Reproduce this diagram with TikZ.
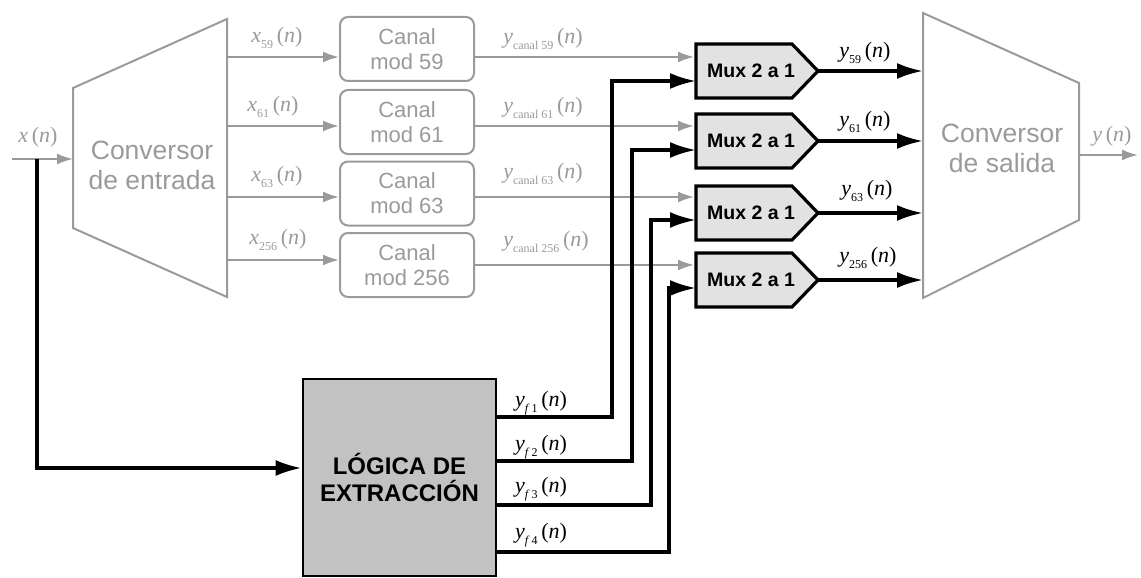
\documentclass[tikz,border=0pt]{standalone}
\usepackage{fontspec}
\setmainfont{Liberation Sans}
\newfontfamily\tms{Liberation Serif}
\usetikzlibrary{arrows.meta}
\definecolor{lg}{HTML}{9A9A9A}
\definecolor{muxfill}{HTML}{E2E2E2}
\definecolor{logfill}{HTML}{C2C2C2}
\newcommand\sig[2]{\textit{#1}\raisebox{-0.28em}{\fontsize{12}{12}\selectfont #2}\,(\textit{n})}
\begin{document}
\begin{tikzpicture}[x=1pt,y=-1pt,
 garr/.style={draw=lg,line width=2pt,-{Latex[length=16pt,width=11pt]}},
 barr/.style={draw=black,line width=3.2pt,-{Latex[length=26pt,width=16pt]}},
 conv/.style={draw=lg,line width=2pt},
 convtext/.style={text=lg,font=\fontsize{26.5}{30}\selectfont,align=center,inner sep=0pt},
 canal/.style={draw=lg,line width=2pt,rounded corners=8pt,minimum width=134pt,minimum height=64pt,inner sep=0pt,text=lg,font=\fontsize{22}{25}\selectfont,align=center},
 muxsh/.style={draw=black,line width=3.2pt,fill=muxfill,line join=miter},
 muxtext/.style={font=\bfseries\fontsize{19.5}{20}\selectfont,inner sep=0pt},
 logic/.style={draw=black,line width=2.8pt,fill=logfill,minimum width=193pt,minimum height=197pt,inner sep=0pt,align=center,font=\bfseries\fontsize{24}{27}\selectfont},
 glab/.style={text=lg,font=\tms\fontsize{22}{24}\selectfont,inner sep=0pt},
 blab/.style={text=black,font=\tms\fontsize{22}{24}\selectfont,inner sep=0pt}
]
\useasboundingbox (0,0) rectangle (1141,578);

% input converter
\draw[conv] (73,88) -- (227,19) -- (227,297) -- (73,228) -- cycle;
\node[convtext] (cin) at (152,165) {Conversor\\de entrada};
\coordinate (cinL) at (73,159);
\coordinate (xs) at (12,159);
\coordinate (tap) at (37,159);
\node[glab] (xl) at (38,137) {\textit{x}\,(\textit{n})};
\draw[garr] (xs) -- (cinL);

% channel boxes
\node[canal] (c1) at (407,49) {Canal\\mod 59};
\node[canal] (c2) at (407,122) {Canal\\mod 61};
\node[canal] (c3) at (407,193.5) {Canal\\mod 63};
\node[canal] (c4) at (407,265) {Canal\\mod 256};

\draw[garr] (227,57) -- (c1.west |- 0,57);
\draw[garr] (227,126) -- (c2.west |- 0,126);
\draw[garr] (227,197) -- (c3.west |- 0,197);
\draw[garr] (227,260) -- (c4.west |- 0,260);

\node[glab] (lx1) at (277,38) {\sig{x}{59}};
\node[glab] (lx2) at (273,107) {\sig{x}{61}};
\node[glab] (lx3) at (277,177) {\sig{x}{63}};
\node[glab] (lx4) at (278,240) {\sig{x}{256}};

% muxes
\foreach \i/\yt in {1/44,2/114,3/186,4/253}{
  \draw[muxsh] (696,\yt) -- (792,\yt) -- (818,\yt+27) -- (792,\yt+54) -- (696,\yt+54) -- cycle;
  \node[muxtext] (m\i) at (751,\yt+27) {Mux 2 a 1};
}

\draw[garr] (c1.east |- 0,57) -- (694,57);
\draw[garr] (c2.east |- 0,126) -- (694,126);
\draw[garr] (c3.east |- 0,197) -- (694,197);
\draw[garr] (c4.east |- 0,265) -- (694,265);

\node[glab] (ly1) at (543,39) {\sig{y}{canal 59}};
\node[glab] (ly2) at (543,108) {\sig{y}{canal 61}};
\node[glab] (ly3) at (543,174) {\sig{y}{canal 63}};
\node[glab] (ly4) at (546,242) {\sig{y}{canal 256}};

% output converter
\draw[conv] (923,13) -- (1079,83) -- (1079,220) -- (923,298) -- cycle;
\node[convtext] (cout) at (1002,148) {Conversor\\de salida};
\coordinate (cout1) at (923,71);
\coordinate (cout2) at (923,141);
\coordinate (cout3) at (923,213);
\coordinate (cout4) at (923,280);
\coordinate (ys) at (1079,155);
\coordinate (ye) at (1138,155);
\draw[garr] (ys) -- (ye);
\node[glab] (yl) at (1112,136) {\textit{y}\,(\textit{n})};

\draw[barr] (818,71) -- (cout1);
\draw[barr] (818,141) -- (cout2);
\draw[barr] (818,213) -- (cout3);
\draw[barr] (818,280) -- (cout4);

\node[blab] (lo1) at (865,53) {\sig{y}{59}};
\node[blab] (lo2) at (865,122) {\sig{y}{61}};
\node[blab] (lo3) at (867,191) {\sig{y}{63}};
\node[blab] (lo4) at (868,258) {\sig{y}{256}};

% extraction logic
\node[logic] (log) at (399.5,477.5) {LÓGICA DE\\EXTRACCIÓN};
\draw[barr] (tap) |- (log.west |- 0,468);

\coordinate (v1) at (612,81);
\coordinate (v2) at (632,150);
\coordinate (v3) at (651,220);
\coordinate (v4) at (669,288);
\draw[barr] (log.east |- 0,417) -| (v1) -- (696,81);
\draw[barr] (log.east |- 0,461) -| (v2) -- (696,150);
\draw[barr] (log.east |- 0,505) -| (v3) -- (696,220);
\draw[barr] (log.east |- 0,552) -| (v4) -- (696,288);

\node[blab] (lf1) at (541,403) {\sig{y}{\textit{f}\,1}};
\node[blab] (lf2) at (541,447) {\sig{y}{\textit{f}\,2}};
\node[blab] (lf3) at (541,489) {\sig{y}{\textit{f}\,3}};
\node[blab] (lf4) at (541,535) {\sig{y}{\textit{f}\,4}};
\end{tikzpicture}
\end{document}
